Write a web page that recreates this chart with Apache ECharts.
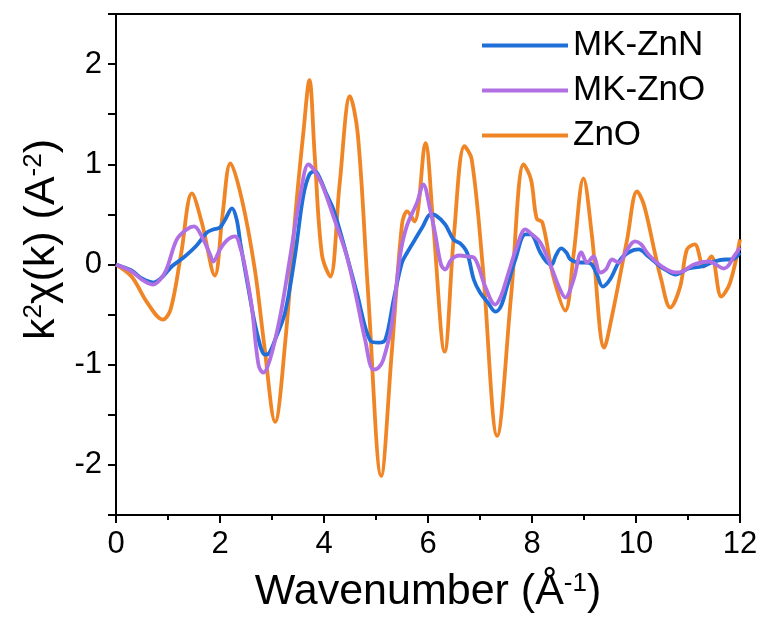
<!DOCTYPE html>
<html><head><meta charset="utf-8">
<script src="https://cdn.jsdelivr.net/npm/echarts@6/dist/echarts.min.js"></script>
<style>html,body{margin:0;padding:0;background:#fff}#c{width:763px;height:625px}</style>
</head><body><div id="c"></div>
<script>
const seriesNames = ['MK-ZnN', 'MK-ZnO', 'ZnO'];
const colors = ['#1f6fd8', '#b06fe2', '#f08526'];
const xTicks = [0, 2, 4, 6, 8, 10, 12];
const yTicks = [-2, -1, 0, 1, 2];

const znnK = [0,0.3,0.5,0.72,0.9,1.07,1.3,1.55,1.75,1.87,2.0,2.1,2.23,2.32,2.39,2.55,2.71,2.87,2.95,3.06,3.25,3.44,3.6,3.72,3.83,3.93,4.05,4.18,4.37,4.63,4.89,5.05,5.18,5.34,5.5,5.6,5.75,5.9,6.05,6.15,6.33,6.49,6.62,6.75,6.88,7.0,7.15,7.3,7.4,7.52,7.68,7.87,7.97,8.16,8.29,8.38,8.45,8.56,8.66,8.74,8.93,9.06,9.15,9.25,9.36,9.5,9.7,9.89,10.05,10.24,10.47,10.56,10.76,11.01,11.27,11.5,11.72,11.85,12.0];
const znnV = [0,-0.06,-0.14,-0.18,-0.12,-0.02,0.07,0.19,0.32,0.35,0.37,0.45,0.56,0.45,0.22,-0.25,-0.68,-0.9,-0.88,-0.75,-0.48,0.08,0.68,0.9,0.93,0.85,0.7,0.55,0.22,-0.28,-0.76,-0.78,-0.75,-0.35,0.02,0.12,0.25,0.38,0.5,0.49,0.4,0.25,0.21,0.12,-0.15,-0.28,-0.38,-0.47,-0.42,-0.22,0.05,0.3,0.3,0.12,0.02,0.0,0.08,0.16,0.12,0.05,0.02,0.02,0.0,-0.1,-0.22,-0.15,0.05,0.13,0.15,0.08,-0.02,-0.05,-0.1,-0.04,-0.02,0.03,0.05,0.05,0.12];

const znoK = [0,0.3,0.5,0.72,0.85,0.97,1.17,1.36,1.5,1.65,1.81,1.87,2.0,2.13,2.29,2.4,2.48,2.61,2.74,2.83,2.96,3.16,3.35,3.54,3.7,3.8,3.96,4.18,4.44,4.63,4.79,4.95,5.05,5.14,5.3,5.46,5.59,5.79,5.91,6.04,6.14,6.25,6.33,6.45,6.6,6.75,6.9,7.1,7.29,7.4,7.55,7.71,7.87,8.0,8.16,8.35,8.54,8.64,8.8,8.95,9.06,9.18,9.31,9.42,9.54,9.67,9.83,9.98,10.1,10.24,10.5,10.76,10.9,11.11,11.4,11.69,11.91,12.0];
const znoV = [0,-0.07,-0.15,-0.2,-0.15,-0.05,0.25,0.35,0.38,0.28,0.1,0.03,0.15,0.24,0.28,0.15,-0.02,-0.42,-1.0,-1.08,-0.95,-0.51,0.08,0.68,1.0,0.95,0.8,0.48,0.08,-0.35,-0.75,-1.05,-1.03,-0.95,-0.61,0.08,0.38,0.62,0.8,0.55,0.3,0.0,-0.05,0.05,0.09,0.08,0.06,-0.22,-0.4,-0.32,-0.08,0.18,0.35,0.3,0.22,0.0,-0.25,-0.33,-0.15,0.12,0.02,0.08,-0.08,-0.05,0.05,0.02,0.15,0.23,0.2,0.1,-0.02,-0.08,-0.07,0.0,0.03,-0.04,0.1,0.17];

const refK = [0,0.3,0.6,0.9,1.05,1.25,1.46,1.65,1.9,2.05,2.2,2.42,2.67,2.85,3.06,3.25,3.45,3.6,3.72,3.82,3.96,4.12,4.3,4.5,4.65,4.85,5.1,5.3,5.5,5.6,5.74,5.95,6.1,6.32,6.5,6.7,6.84,7.05,7.33,7.6,7.84,7.98,8.09,8.2,8.4,8.64,8.8,8.99,9.15,9.39,9.54,9.83,10.02,10.15,10.37,10.47,10.66,10.85,10.98,11.13,11.3,11.45,11.64,11.81,12.0];
const refV = [0,-0.12,-0.38,-0.55,-0.45,0.1,0.71,0.42,-0.11,0.5,1.01,0.65,-0.05,-0.8,-1.57,-0.8,0.5,1.3,1.84,1.1,0.1,-0.12,0.8,1.68,1.3,-0.3,-2.11,-0.9,0.4,0.53,0.43,1.21,0.4,-0.87,0.3,1.18,1.05,0.0,-1.71,-0.3,1.0,0.85,0.46,0.42,-0.1,-0.46,0.1,0.86,0.3,-0.83,-0.51,0.25,0.73,0.6,0.1,-0.12,-0.43,-0.22,0.15,0.2,-0.02,0.08,-0.32,-0.18,0.25];

const FONT = 'Liberation Sans';
function pairs(k, v) { return k.map((x, i) => [x, v[i]]); }
const allData = [pairs(znnK, znnV), pairs(znoK, znoV), pairs(refK, refV)];

const chart = echarts.init(document.getElementById('c'), null, { renderer: 'canvas' });
chart.setOption({
  animation: false,
  backgroundColor: '#fff',
  grid: { left: 116, right: 23, top: 14, bottom: 110, show: true, borderColor: '#000', borderWidth: 2, backgroundColor: 'transparent' },
  legend: {
    left: 477, top: 23, orient: 'vertical',
    itemWidth: 86, itemHeight: 14, itemGap: 10,
    icon: 'path://M0,5 L86,5 L86,9 L0,9 Z',
    data: seriesNames,
    textStyle: { fontFamily: FONT, fontSize: 35, color: '#000', lineHeight: 35 }
  },
  xAxis: {
    type: 'value', min: 0, max: 12, interval: 2,
    name: '{a|Wavenumber (Å}{s|-1}{a|)}', nameLocation: 'middle', nameGap: 56,
    nameTextStyle: { rich: { a: { fontFamily: FONT, fontSize: 43, color: '#000' }, s: { fontFamily: FONT, fontSize: 26, color: '#000', verticalAlign: 'top' } } },
    axisLine: { show: true, onZero: false, lineStyle: { color: '#000', width: 2 } },
    axisTick: { show: true, inside: false, length: 8, lineStyle: { color: '#000', width: 2 } },
    minorTick: { show: true, splitNumber: 2, length: 5, lineStyle: { color: '#000', width: 2 } },
    axisLabel: { fontFamily: FONT, fontSize: 31, color: '#000', margin: 14,
      formatter: v => xTicks.includes(v) ? String(v) : '' },
    splitLine: { show: false }
  },
  yAxis: {
    type: 'value', min: -2.5, max: 2.5, interval: 0.5,
    name: '{a|k}{s|2}{a|χ(k) (A}{s|-2}{a|)}', nameLocation: 'middle', nameGap: 50, nameRotate: 90,
    nameTextStyle: { padding: [0, 0, 0, 50], rich: { a: { fontFamily: FONT, fontSize: 43, color: '#000' }, s: { fontFamily: FONT, fontSize: 26, color: '#000', verticalAlign: 'top' } } },
    axisLine: { show: true, onZero: false, lineStyle: { color: '#000', width: 2 } },
    axisTick: { show: true, inside: false, length: 8, lineStyle: { color: '#000', width: 2 } },
    axisLabel: { fontFamily: FONT, fontSize: 31, color: '#000', margin: 14,
      formatter: v => yTicks.includes(v) ? String(v) : '' },
    splitLine: { show: false }
  },
  series: seriesNames.map((n, i) => ({
    name: n, type: 'line', data: allData[i], showSymbol: false, symbol: 'none', smooth: 0.35,
    z: i === 2 ? 1 : (i === 1 ? 3 : 2),
    lineStyle: { color: colors[i], width: 3.8 }, itemStyle: { color: colors[i] }
  }))
});
</script></body></html>
